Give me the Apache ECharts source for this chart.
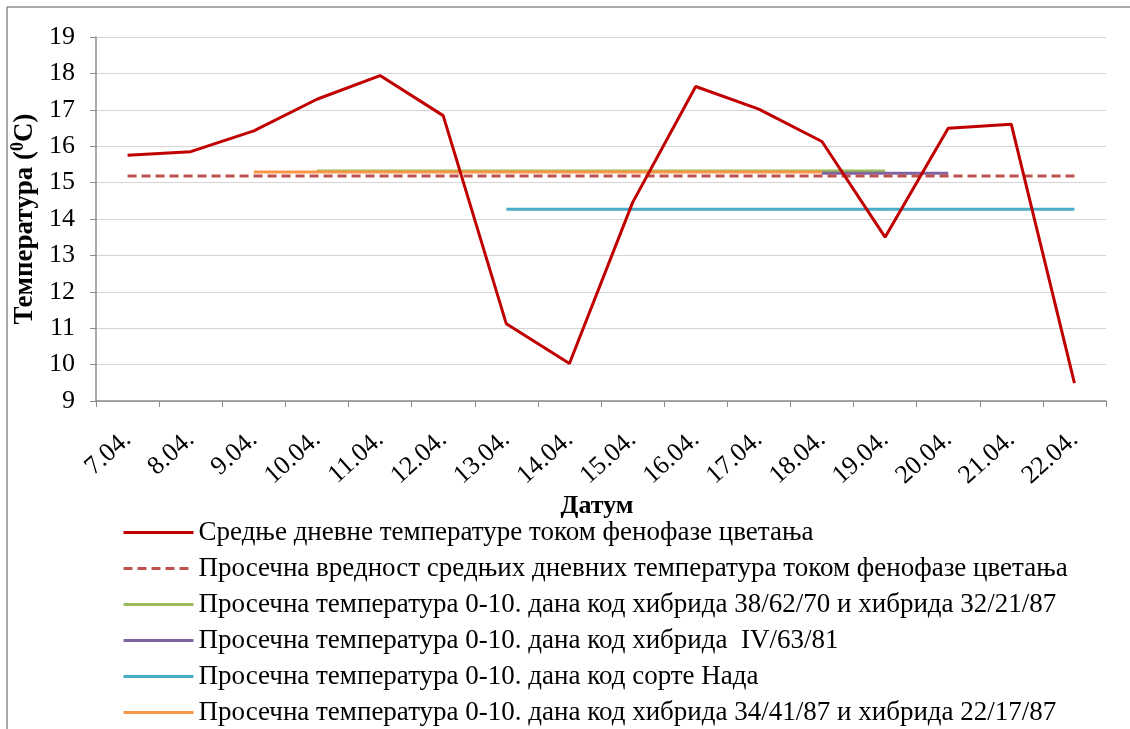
<!DOCTYPE html>
<html>
<head>
<meta charset="utf-8">
<script src="https://cdn.jsdelivr.net/npm/echarts@6/dist/echarts.min.js"></script>
<style>html,body{margin:0;padding:0;background:#fff;}#c{width:1130px;height:729px;}</style>
</head>
<body>
<div id="c"></div>
<script>
const categories = ['7.04.','8.04.','9.04.','10.04.','11.04.','12.04.','13.04.','14.04.','15.04.','16.04.','17.04.','18.04.','19.04.','20.04.','21.04.','22.04.'];
const seriesNames = [
  'Средње дневне температуре током фенофазе цветања',
  'Просечна вредност средњих дневних температура током фенофазе цветања',
  'Просечна температура 0-10. дана код хибрида 38/62/70 и хибрида 32/21/87',
  'Просечна температура 0-10. дана код хибрида  IV/63/81',
  'Просечна температура 0-10. дана код сорте Нада',
  'Просечна температура 0-10. дана код хибрида 34/41/87 и хибрида 22/17/87'
];
const dailyMean = [15.75,15.85,16.42,17.29,17.94,16.84,11.12,10.03,14.45,17.64,17.02,16.13,13.5,16.49,16.6,9.49];
const seasonMean = [15.18,15.18,15.18,15.18,15.18,15.18,15.18,15.18,15.18,15.18,15.18,15.18,15.18,15.18,15.18,15.18];
const hybrid386270 = [null,null,null,15.32,15.32,15.32,15.32,15.32,15.32,15.32,15.32,15.32,15.32,null,null,null];
const hybridIV6381 = [null,null,null,null,null,null,null,null,null,null,null,15.26,15.26,15.26,null,null];
const sortNada = [null,null,null,null,null,null,14.27,14.27,14.27,14.27,14.27,14.27,14.27,14.27,14.27,14.27];
const hybrid344187 = [null,null,15.29,15.29,15.29,15.29,15.29,15.29,15.29,15.29,15.29,15.29,null,null,null,null];
const yTicks = {min: 9, max: 19, interval: 1};

const serif = '"Liberation Serif","Times New Roman",serif';
const chart = echarts.init(document.getElementById('c'));
function mk(name, data, color, width, type, z) {
  return {name, type: 'line', data, symbol: 'none', connectNulls: false, z,
    lineStyle: {color, width, type}, itemStyle: {color}, emphasis: {disabled: true}};
}
chart.setOption({
  animation: false,
  backgroundColor: '#fff',
  grid: {left: 96, right: 24, top: 37, bottom: 328},
  graphic: [
    {type: 'line', shape: {x1: 7, y1: 7, x2: 7, y2: 729}, style: {stroke: '#8c8c8c', lineWidth: 1.5}},
    {type: 'line', shape: {x1: 7, y1: 7, x2: 1130, y2: 7}, style: {stroke: '#8c8c8c', lineWidth: 1.5}}
  ],
  xAxis: {
    type: 'category', data: categories, boundaryGap: true,
    name: 'Датум', nameLocation: 'middle', nameGap: 92,
    nameTextStyle: {fontFamily: serif, fontWeight: 'bold', fontSize: 26, color: '#000', padding: [0, 8, 0, 0]},
    axisLine: {lineStyle: {color: '#8c8c8c', width: 1.5}},
    axisTick: {show: true, length: 6, lineStyle: {color: '#8c8c8c'}},
    axisLabel: {rotate: 42, fontFamily: serif, fontSize: 26, color: '#000', margin: 35, interval: 0},
    splitLine: {show: false}
  },
  yAxis: {
    type: 'value', min: yTicks.min, max: yTicks.max, interval: yTicks.interval,
    name: '{a|Температура (}{s|0}{a|C)}', nameLocation: 'middle', nameGap: 48,
    nameTextStyle: {rich: {
      a: {fontFamily: serif, fontWeight: 'bold', fontSize: 27, color: '#000'},
      s: {fontFamily: serif, fontWeight: 'bold', fontSize: 18, color: '#000', padding: [0, 0, 12, 0]}
    }},
    axisLine: {show: true, lineStyle: {color: '#8c8c8c', width: 1.5}},
    axisTick: {show: true, length: 6, lineStyle: {color: '#8c8c8c'}},
    axisLabel: {fontFamily: serif, fontSize: 26, color: '#000', margin: 21},
    splitLine: {lineStyle: {color: '#d4d4d4', width: 1.2}}
  },
  legend: {
    orient: 'vertical', left: 122, top: 519, padding: 0, itemWidth: 70, itemHeight: 14, itemGap: 9,
    height: 215,
    itemStyle: {opacity: 0},
    lineStyle: {width: 3},
    textStyle: {fontFamily: serif, fontSize: 27, color: '#000', lineHeight: 27},
    data: seriesNames
  },
  series: [
    mk(seriesNames[0], dailyMean, '#c00000', 3, 'solid', 10),
    mk(seriesNames[1], seasonMean, '#c0504d', 3, [9, 5], 3),
    mk(seriesNames[2], hybrid386270, '#9bbb59', 3, 'solid', 2),
    mk(seriesNames[3], hybridIV6381, '#8064a2', 3, 'solid', 2),
    mk(seriesNames[4], sortNada, '#4bacc6', 3, 'solid', 2),
    mk(seriesNames[5], hybrid344187, '#f79646', 3, 'solid', 2)
  ]
});
</script>
</body>
</html>
